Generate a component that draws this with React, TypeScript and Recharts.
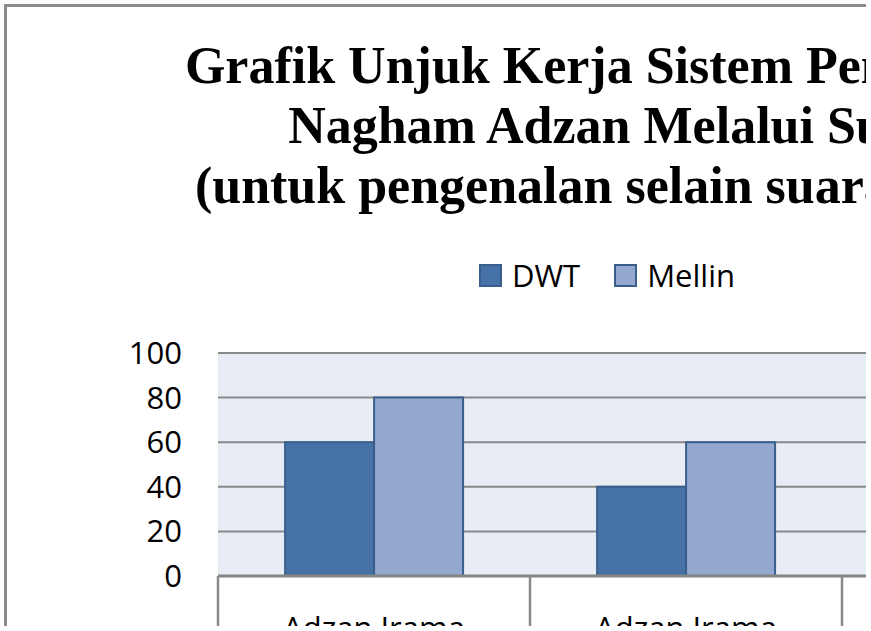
import React from "react";
import { BarChart, Bar, XAxis, YAxis, CartesianGrid, Legend } from "recharts";

const categories = ["Adzan Irama Bayati", "Adzan Irama Hijaz", "Adzan Irama Shoba"];
const dwtValues = [60, 40, 40];
const mellinValues = [80, 60, 60];
const yTicks = [0, 20, 40, 60, 80, 100];
const titleLines = [
  "Grafik Unjuk Kerja Sistem Pengenalan",
  "Nagham Adzan Melalui Suara",
  "(untuk pengenalan selain suara adzan)",
];

const data = categories.map((c, i) => ({ name: c, DWT: dwtValues[i], Mellin: mellinValues[i] }));

const W = 1200;
const H = 700;
const M = { top: 346, right: 53, bottom: 31, left: 0 };
const Y_W = 211;
const PLOT_W = W - M.left - M.right - Y_W;
const BAND = PLOT_W / categories.length;
const FONT = "'Open Sans', sans-serif";
const AXIS_GRAY = "#898989";
const BAR_STROKE = "#3a5f8c";

const CatTick = (props: any) => {
  const { x, y, payload, index } = props;
  const words = String(payload.value).split(" ");
  const l1 = words.slice(0, 2).join(" ");
  const l2 = words.slice(2).join(" ");
  return (
    <g>
      <line x1={x - BAND / 2} x2={x - BAND / 2} y1={y} y2={y + 110} stroke={AXIS_GRAY} strokeWidth={2.5} />
      {index === categories.length - 1 && (
        <line x1={x + BAND / 2} x2={x + BAND / 2} y1={y} y2={y + 110} stroke={AXIS_GRAY} strokeWidth={2.5} />
      )}
      <text x={x} y={y + 63} textAnchor="middle" fontFamily={FONT} fontSize={31} fill="#000">
        {l1}
      </text>
      <text x={x} y={y + 101} textAnchor="middle" fontFamily={FONT} fontSize={31} fill="#000">
        {l2}
      </text>
    </g>
  );
};

const renderLegend = (props: any) => {
  const { payload } = props;
  return (
    <div
      style={{
        display: "flex",
        justifyContent: "center",
        alignItems: "center",
        fontFamily: FONT,
        fontSize: 31,
        lineHeight: "42px",
        color: "#000",
      }}
    >
      {payload.map((e: any, i: number) => (
        <span key={i} style={{ display: "inline-flex", alignItems: "center", marginLeft: i ? 34 : 0 }}>
          <svg width={23} height={23} style={{ display: "block" }}>
            <rect x={1} y={1} width={21} height={21} fill={e.color} stroke={BAR_STROKE} strokeWidth={2} />
          </svg>
          <span style={{ marginLeft: 10 }}>{e.value}</span>
        </span>
      ))}
    </div>
  );
};

export default function App() {
  return (
    <div
      style={{
        position: "fixed",
        left: 4,
        top: 4,
        width: 862,
        height: 622,
        overflow: "hidden",
        background: "#fff",
      }}
    >
      <div
        style={{
          position: "absolute",
          left: 3,
          top: 3,
          width: W,
          height: H,
          background: "#fff",
        }}
      >
        <div
          style={{
            position: "absolute",
            left: 17,
            top: 29,
            width: W,
            textAlign: "center",
            fontFamily: "'Liberation Serif', 'Times New Roman', serif",
            fontWeight: "bold",
            fontSize: 52,
            lineHeight: "60px",
            whiteSpace: "nowrap",
            color: "#000",
            zIndex: 2,
          }}
        >
          {titleLines.map((t, i) => (
            <div key={i}>{t}</div>
          ))}
        </div>
        <BarChart width={W} height={H} data={data} margin={M} barCategoryGap="21.5%" barGap={0}>
          <CartesianGrid vertical={false} fill="#e8ecf4" stroke={AXIS_GRAY} strokeWidth={2} />
          <XAxis
            dataKey="name"
            height={100}
            axisLine={{ stroke: "#858585", strokeWidth: 3 }}
            tickLine={false}
            tickSize={0}
            tickMargin={0}
            interval={0}
            tick={<CatTick />}
          />
          <YAxis
            width={Y_W}
            domain={[0, 100]}
            ticks={yTicks}
            axisLine={false}
            tickLine={false}
            tickSize={0}
            tickMargin={36}
            tick={{ fontFamily: FONT, fontSize: 31, fill: "#000" }}
          />
          <Legend
            verticalAlign="middle"
            align="center"
            content={renderLegend}
            wrapperStyle={{ top: 247, left: 0, width: W }}
          />
          <Bar dataKey="DWT" name="DWT" fill="#4672a7" stroke={BAR_STROKE} strokeWidth={2} isAnimationActive={false} />
          <Bar dataKey="Mellin" name="Mellin" fill="#95a9d0" stroke={BAR_STROKE} strokeWidth={2} isAnimationActive={false} />
        </BarChart>
      </div>
      <div
        style={{
          position: "absolute",
          left: 0,
          top: 0,
          width: W,
          height: H,
          borderLeft: "3px solid #8c8c8c",
          borderTop: "3px solid #8c8c8c",
          pointerEvents: "none",
          zIndex: 10,
        }}
      />
    </div>
  );
}
